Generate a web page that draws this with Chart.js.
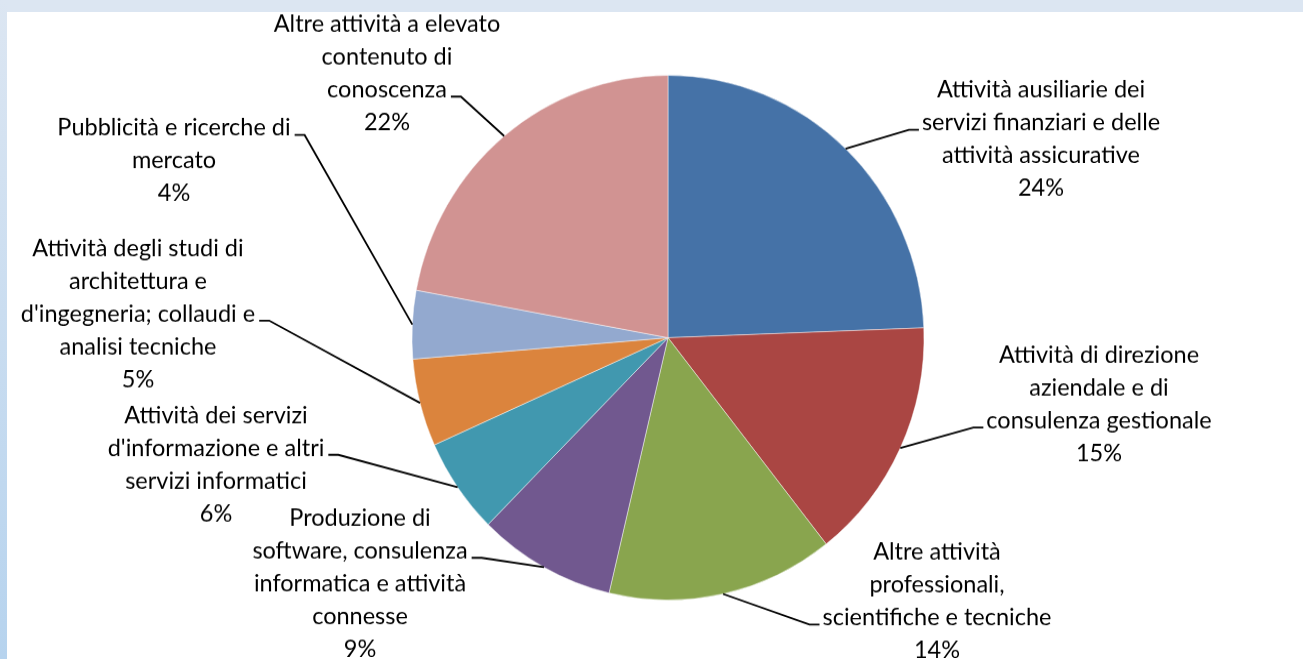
<!DOCTYPE html>
<html>
<head>
<meta charset="utf-8">
<script src="https://cdn.jsdelivr.net/npm/chart.js@4/dist/chart.umd.min.js"></script>
<style>
  html, body { margin: 0; padding: 0; background: #fff; }
  #wrap { position: relative; width: 1303px; height: 659px; overflow: hidden; background: #fff; }
  #topband { position: absolute; left: 0; top: 0; width: 1303px; height: 12px; background: #dce6f2; }
  #leftband { position: absolute; left: 0; top: 0; width: 7px; height: 659px;
    background: linear-gradient(to bottom, #dce6f2, #b6d3ee); }
  #chart { position: absolute; left: 0; top: 0; }
</style>
</head>
<body>
<div id="wrap">
  <div id="topband"></div>
  <div id="leftband"></div>
  <!-- the original pie is a touch taller than wide, so the canvas is stretched a little -->
  <canvas id="chart" width="1303" height="643" style="width:1303px;height:659px"></canvas>
</div>
<script>
'use strict';

// categories (already split on the lines used in the picture)
const categories = [
  ['Attività ausiliarie dei', 'servizi finanziari e delle', 'attività assicurative'],
  ['Attività di direzione', 'aziendale e di', 'consulenza gestionale'],
  ['Altre attività', 'professionali,', 'scientifiche e tecniche'],
  ['Produzione di', 'software, consulenza', 'informatica e attività', 'connesse'],
  ['Attività dei servizi', "d'informazione e altri", 'servizi informatici'],
  ['Attività degli studi di', 'architettura e', "d'ingegneria; collaudi e", 'analisi tecniche'],
  ['Pubblicità e ricerche di', 'mercato'],
  ['Altre attività a elevato', 'contenuto di', 'conoscenza'],
];

// shares (%)
const shares = [24.4, 15.0, 14.3, 8.7, 5.9, 5.4, 4.2, 22.1];

const sliceColors = [
  '#4572a7', '#aa4643', '#89a54e', '#71588f',
  '#4198af', '#db843d', '#93a9cf', '#d19392',
];

// label placement on screen: centre x, centre y of first line,
// line the leader hooks on, side of the text relative to the leader
const labelBoxes = [
  { cx: 1041, cy: 90, hook: 1, side: 'right' },
  { cx: 1099, cy: 355, hook: 2, side: 'right' },
  { cx: 937, cy: 552, hook: 2, side: 'right' },
  { cx: 360, cy: 518, hook: 1, side: 'left' },
  { cx: 216, cy: 415, hook: 1, side: 'left' },
  { cx: 138, cy: 248, hook: 2, side: 'left' },
  { cx: 174, cy: 128, hook: 0, side: 'left' },
  { cx: 387, cy: 24, hook: 2, side: 'left' },
];

const yScale = 659 / 643;
const lineHeight = 32.8;
const labelFont = '23.5px Lato';

const total = shares.reduce((a, b) => a + b, 0);

const pieLabels = {
  id: 'pieLabels',
  afterDraw(chart) {
    const ctx = chart.ctx;
    const arcs = chart.getDatasetMeta(0).data;
    ctx.save();
    ctx.font = labelFont;
    ctx.textAlign = 'center';
    ctx.textBaseline = 'middle';
    ctx.fillStyle = '#000';
    ctx.strokeStyle = '#000';
    ctx.lineWidth = 1.8;

    arcs.forEach((arc, i) => {
      const box = labelBoxes[i];
      const lines = categories[i].concat([Math.round((shares[i] / total) * 100) + '%']);

      lines.forEach((txt, j) => {
        ctx.fillText(txt, box.cx, (box.cy + j * lineHeight) / yScale);
      });

      // leader from the slice middle to the hooked text line
      const p = arc.getProps(['x', 'y', 'startAngle', 'endAngle', 'outerRadius'], true);
      const mid = (p.startAngle + p.endAngle) / 2;
      const sx = p.x + Math.cos(mid) * p.outerRadius;
      const sy = p.y + Math.sin(mid) * p.outerRadius;

      const w = ctx.measureText(lines[box.hook]).width;
      const ly = (box.cy + box.hook * lineHeight + 7) / yScale;
      let ex, kx;
      if (box.side === 'right') {
        ex = box.cx - w / 2 - 3;
        kx = ex - 10;
      } else {
        ex = box.cx + w / 2 + 4;
        kx = ex + 10;
      }
      ctx.beginPath();
      ctx.moveTo(sx, sy);
      ctx.lineTo(kx, ly);
      ctx.lineTo(ex, ly);
      ctx.stroke();
    });
    ctx.restore();
  },
};

const chartData = {
  labels: categories.map((c) => c.join(' ')),
  datasets: [
    {
      data: shares,
      backgroundColor: sliceColors,
      borderColor: 'rgba(255,255,255,0.45)',
      borderWidth: 1,
    },
  ],
};

const options = {
  responsive: false,
  animation: false,
  devicePixelRatio: 1,
  layout: {
    padding: { left: 411, right: 378, top: 73, bottom: 57 },
  },
  plugins: {
    legend: { display: false },
    tooltip: { enabled: false },
  },
};

const config = {
  type: 'pie',
  data: chartData,
  options: options,
  plugins: [pieLabels],
};

const ctx = document.getElementById('chart');
let myChart = new Chart(ctx, config);
</script>
</body>
</html>
